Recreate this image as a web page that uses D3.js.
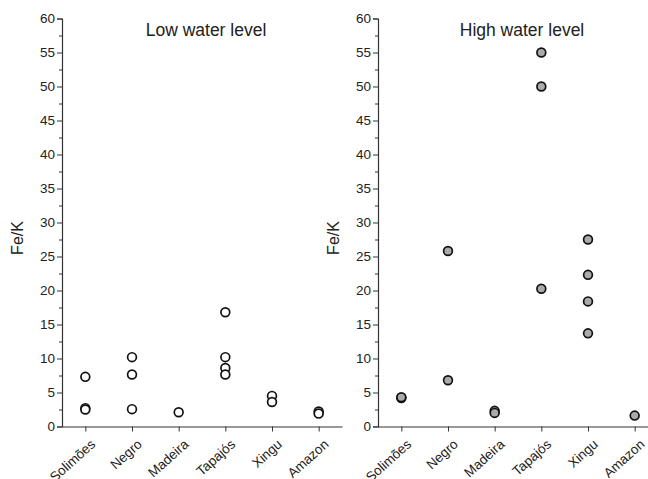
<!DOCTYPE html>
<html>
<head>
<meta charset="utf-8">
<script src="https://cdn.jsdelivr.net/npm/d3@7"></script>
<style>
  body { margin: 0; background: #fff; }
  svg text { font-family: "Liberation Sans", Arial, sans-serif; fill: #222; }
</style>
</head>
<body>
<div id="chart"></div>
<script>
// Rivers on the x axis
const rivers = ["Solimões", "Negro", "Madeira", "Tapajós", "Xingu", "Amazon"];

// Fe/K values per river, low water level
const lowWater = [
  [7.3, 2.7, 2.5],
  [10.2, 7.65, 2.55],
  [2.1],
  [16.8, 10.2, 8.6, 7.65],
  [4.5, 3.6],
  [2.2, 1.9]
];

// Fe/K values per river, high water level
const highWater = [
  [4.2, 4.3],
  [25.8, 6.8],
  [2.3, 2.0],
  [55.0, 50.0, 20.25],
  [27.5, 22.3, 18.4, 13.7],
  [1.6]
];

const yTicks = d3.range(0, 61, 5);
const yMinorTicks = d3.range(2.5, 60, 5);

const width = 648;
const height = 479;

const svg = d3.select("#chart")
  .append("svg")
  .attr("width", width)
  .attr("height", height);

function drawPanel(values, title, left, fill) {
  const x = d3.scaleLinear()
    .domain([0.5, 6.5])
    .range([left, left + 280]);

  const y = d3.scaleLinear()
    .domain([0, 60])
    .range([426.5, 18.5]);

  // minor y ticks
  svg.append("g")
    .attr("transform", `translate(${left},0)`)
    .call(d3.axisLeft(y).tickValues(yMinorTicks).tickSize(3).tickFormat(""))
    .call(g => g.select(".domain").remove())
    .selectAll("line").attr("stroke", "#333");

  // y axis
  const yAxis = svg.append("g")
    .attr("transform", `translate(${left},0)`)
    .call(d3.axisLeft(y).tickValues(yTicks).tickSize(5).tickPadding(2));
  yAxis.select(".domain").attr("stroke", "#333").attr("stroke-width", 1.2);
  yAxis.selectAll("line").attr("stroke", "#333");
  yAxis.selectAll("text").style("font-size", "13.5px");

  // x axis
  const xAxis = svg.append("g")
    .attr("transform", `translate(0,426.5)`)
    .call(d3.axisBottom(x).tickValues(d3.range(1, 7)).tickSize(5).tickSizeOuter(0)
      .tickFormat(d => rivers[d - 1]));
  xAxis.select(".domain").attr("stroke", "#333").attr("stroke-width", 1.2);
  xAxis.selectAll("line").attr("stroke", "#333");
  xAxis.selectAll("text")
    .style("font-size", "13.5px")
    .style("text-anchor", "end")
    .attr("dy", 0)
    .attr("transform", "translate(5,13) rotate(-42)");

  // y label
  svg.append("text")
    .attr("transform", `translate(${left - 39},238) rotate(-90)`)
    .style("text-anchor", "middle")
    .style("font-size", "16px")
    .text("Fe/K");

  // title
  svg.append("text")
    .attr("x", left + 144)
    .attr("y", 36)
    .style("text-anchor", "middle")
    .style("font-size", "17.5px")
    .text(title);

  // points
  const points = values.flatMap((vals, i) => vals.map(v => ({ i: i + 1, v })));
  svg.append("g")
    .selectAll("circle")
    .data(points)
    .enter()
    .append("circle")
    .attr("cx", d => x(d.i))
    .attr("cy", d => y(d.v))
    .attr("r", 4.4)
    .attr("fill", fill)
    .attr("stroke", "#111")
    .attr("stroke-width", 1.7);
}

drawPanel(lowWater, "Low water level", 62, "#fff");
drawPanel(highWater, "High water level", 378, "#aaa");
</script>
</body>
</html>
